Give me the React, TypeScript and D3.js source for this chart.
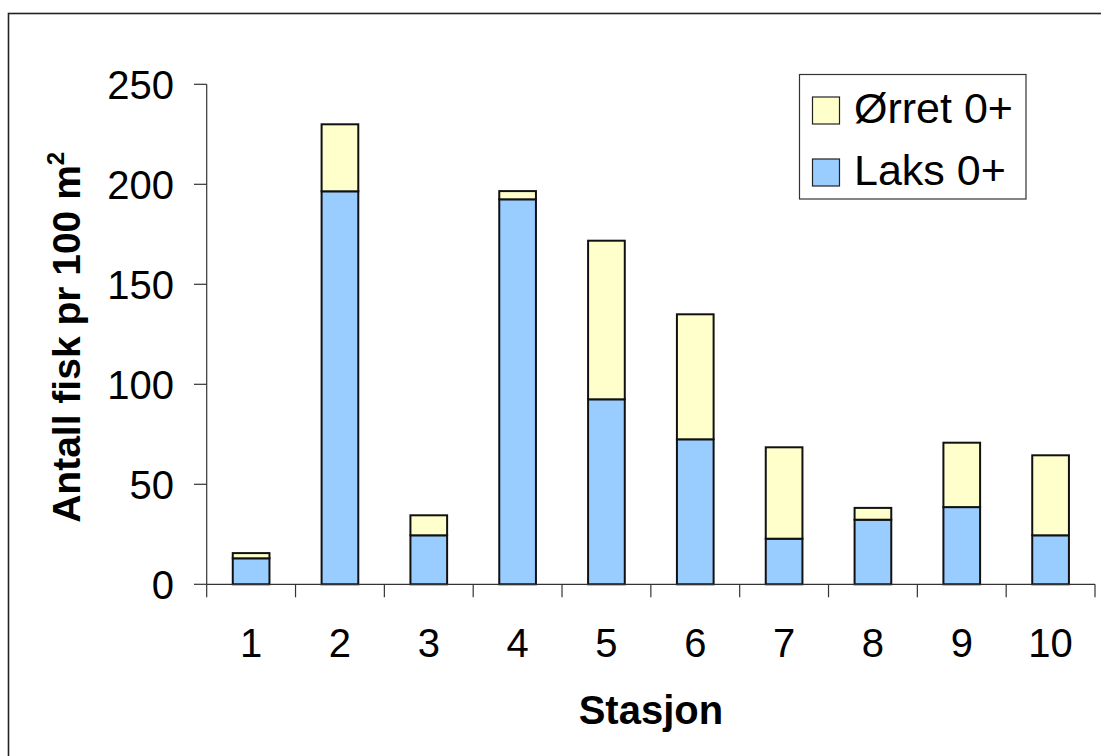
import React from "react";
import * as d3 from "d3";

const categories = ["1", "2", "3", "4", "5", "6", "7", "8", "9", "10"];
const laks = [13, 196.5, 24.5, 192.5, 92.5, 72.5, 22.8, 32.3, 38.6, 24.5];
const orret = [2.6, 33.5, 10, 4.1, 79.3, 62.5, 45.7, 5.9, 32.2, 40];
const yTicks = [0, 50, 100, 150, 200, 250];
const seriesNames = ["Ørret 0+", "Laks 0+"];
const colors = { laks: "#99CCFF", orret: "#FFFFCC" };

const W = 1101;
const H = 756;
const FONT = "'Liberation Sans', Arial, sans-serif";

export default function App() {
  const x = d3
    .scaleBand<string>()
    .domain(categories)
    .range([206.7, 1095])
    .paddingInner(0.587)
    .paddingOuter(0.2935);
  const y = d3.scaleLinear().domain([0, 250]).range([584.3, 84.3]);

  const rows = categories.map((c, i) => ({ cat: c, laks: laks[i], orret: orret[i] }));
  const stack = d3.stack<any>().keys(["laks", "orret"])(rows);

  const x0 = x.range()[0];
  const step = x.step();
  const boundaries = d3.range(categories.length + 1).map((i) => x0 + i * step);

  return (
    <svg
      width={W}
      height={H}
      style={{ position: "absolute", left: 0, top: 0, background: "#fff" }}
      fontFamily={FONT}
    >
      <rect x={0} y={0} width={W} height={H} fill="#fff" />
      {/* outer frame */}
      <rect x={8.5} y={13.5} width={1200} height={900} fill="none" stroke="#222" strokeWidth={1.6} />

      {/* bars */}
      {stack.map((s) => (
        <g key={s.key}>
          {s.map((d, i) => (
            <rect
              key={i}
              x={x(categories[i])}
              y={y(d[1])}
              width={x.bandwidth()}
              height={y(d[0]) - y(d[1])}
              fill={s.key === "laks" ? colors.laks : colors.orret}
              stroke="#111"
              strokeWidth={2}
            />
          ))}
        </g>
      ))}

      {/* y axis */}
      <line x1={206.7} x2={206.7} y1={y(250)} y2={y(0)} stroke="#333" strokeWidth={1.2} />
      {yTicks.map((t) => (
        <g key={t}>
          <line x1={194} x2={206.7} y1={y(t)} y2={y(t)} stroke="#333" strokeWidth={1.2} />
          <text x={174} y={y(t)} dy="0.36em" textAnchor="end" fontSize={40} fill="#000">
            {t}
          </text>
        </g>
      ))}

      {/* x axis */}
      <line x1={x0} x2={x0 + step * categories.length} y1={y(0)} y2={y(0)} stroke="#333" strokeWidth={1.2} />
      {boundaries.map((b, i) => (
        <line key={i} x1={b} x2={b} y1={y(0)} y2={y(0) + 13} stroke="#333" strokeWidth={1.2} />
      ))}
      {categories.map((c) => (
        <text key={c} x={(x(c) as number) + x.bandwidth() / 2} y={657.3} textAnchor="middle" fontSize={40} fill="#000">
          {c}
        </text>
      ))}

      {/* axis titles */}
      <text x={650.9} y={724} textAnchor="middle" fontSize={40} fontWeight="bold" fill="#000">
        Stasjon
      </text>
      <text
        transform={`translate(80, ${(y(0) + y(250)) / 2 + 3}) rotate(-90)`}
        textAnchor="middle"
        fontSize={39}
        fontWeight="bold"
        fill="#000"
      >
        Antall fisk pr 100 m<tspan fontSize={24} dy={-16}>2</tspan>
      </text>

      {/* legend */}
      <rect x={799.5} y={74.5} width={226.5} height={124.5} fill="#fff" stroke="#333" strokeWidth={1.2} />
      {seriesNames.map((n, i) => (
        <g key={n}>
          <rect
            x={812.5}
            y={97 + i * 62}
            width={27}
            height={27}
            fill={i === 0 ? colors.orret : colors.laks}
            stroke="#222"
            strokeWidth={1.2}
          />
          <text x={854} y={123 + i * 61.5} fontSize={43} fill="#000">
            {n}
          </text>
        </g>
      ))}
    </svg>
  );
}
